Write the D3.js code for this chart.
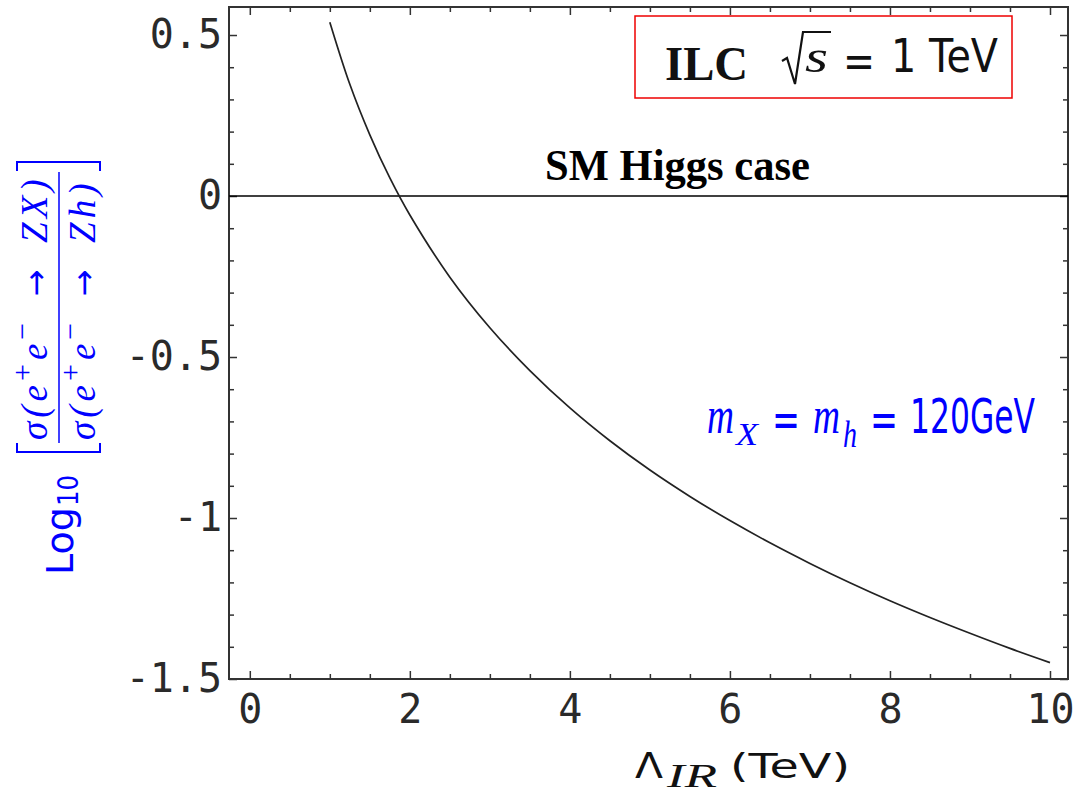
<!DOCTYPE html>
<html>
<head>
<meta charset="UTF-8">
<script src="https://cdn.jsdelivr.net/npm/d3@7"></script>
<style>
  body { margin: 0; background: #fff; }
  svg { display: block; }
  .tick text { font-family: "DejaVu Sans Mono"; font-size: 40px; fill: #2a2a2a; }
</style>
</head>
<body>
<svg id="chart" width="1085" height="792"></svg>
<script>
// curve
var lambdaIR = [1, 1.25, 1.5, 1.75, 2, 2.5, 3, 3.5, 4, 4.5, 5, 5.5, 6, 6.5, 7, 7.5, 8, 8.5, 9, 9.5, 10];
var logRatio = [0.540, 0.347, 0.190, 0.056, -0.059, -0.252, -0.409, -0.542, -0.658, -0.760, -0.851,
                -0.933, -1.008, -1.077, -1.141, -1.201, -1.257, -1.309, -1.358, -1.405, -1.449];

// ticks
var xTicks = [0, 2, 4, 6, 8, 10];
var xMinor = [0.5, 1, 1.5, 2.5, 3, 3.5, 4.5, 5, 5.5, 6.5, 7, 7.5, 8.5, 9, 9.5];
var yTicks = [0.5, 0, -0.5, -1, -1.5];
var yTickLabels = ["0.5", "0", "-0.5", "-1", "-1.5"];
var yMinor = [0.4, 0.3, 0.2, 0.1, -0.1, -0.2, -0.3, -0.4, -0.6, -0.7, -0.8, -0.9, -1.1, -1.2, -1.3, -1.4];

// SM Higgs reference level
var smLevel = 0;

var svg = d3.select("#chart");

var x = d3.scaleLinear().domain([-0.26, 10.225]).range([229, 1068]);
var y = d3.scaleLinear().domain([-1.5, 0.587]).range([679, 7]);

var left = x.range()[0], right = x.range()[1];
var top_ = y.range()[1], bottom = y.range()[0];

// ticks on all four sides, pointing inward
function ticks(axis, tx) {
  var g = svg.append("g").attr("transform", tx).call(axis);
  g.select(".domain").remove();
  g.selectAll(".tick line").attr("stroke", "#333").attr("stroke-width", 1.5);
  return g;
}

ticks(d3.axisBottom(x).tickValues(xTicks).tickSize(-8).tickPadding(16).tickFormat(d3.format("d")),
  "translate(0," + bottom + ")");
ticks(d3.axisBottom(x).tickValues(xMinor).tickSize(-5).tickFormat(""), "translate(0," + bottom + ")");
ticks(d3.axisTop(x).tickValues(xTicks).tickSize(-8).tickFormat(""), "translate(0," + top_ + ")");
ticks(d3.axisTop(x).tickValues(xMinor).tickSize(-5).tickFormat(""), "translate(0," + top_ + ")");

ticks(d3.axisLeft(y).tickValues(yTicks).tickSize(-8).tickPadding(7)
  .tickFormat(function(d, i) { return yTickLabels[i]; }), "translate(" + left + ",0)");
ticks(d3.axisLeft(y).tickValues(yMinor).tickSize(-5).tickFormat(""), "translate(" + left + ",0)");
ticks(d3.axisRight(y).tickValues(yTicks).tickSize(-8).tickFormat(""), "translate(" + right + ",0)");
ticks(d3.axisRight(y).tickValues(yMinor).tickSize(-5).tickFormat(""), "translate(" + right + ",0)");

// frame
svg.append("rect")
  .attr("x", left).attr("y", top_)
  .attr("width", right - left).attr("height", bottom - top_)
  .attr("fill", "none").attr("stroke", "#333").attr("stroke-width", 2);

// SM line
svg.append("line")
  .attr("x1", left).attr("x2", right)
  .attr("y1", y(smLevel)).attr("y2", y(smLevel))
  .attr("stroke", "#000").attr("stroke-width", 1.6);

// curve
var line = d3.line()
  .x(function(d, i) { return x(lambdaIR[i]); })
  .y(function(d) { return y(d); })
  .curve(d3.curveCatmullRom);

svg.append("path")
  .attr("d", line(logRatio))
  .attr("fill", "none")
  .attr("stroke", "#222")
  .attr("stroke-width", 1.7);

// text helper
function label(parent, px, py, str, font, size, opts) {
  opts = opts || {};
  var t = parent.append("text")
    .attr("x", px).attr("y", py)
    .attr("font-family", font)
    .attr("font-size", size)
    .attr("font-weight", opts.weight || "normal")
    .attr("font-style", opts.style || "normal")
    .attr("fill", opts.color || "#111")
    .text(str);
  if (opts.width) t.attr("textLength", opts.width).attr("lengthAdjust", "spacingAndGlyphs");
  return t;
}

// x axis title
label(svg, 635, 778, "\u039b", "DejaVu Sans", 36, {width: 28});
label(svg, 667, 787, "IR", "Liberation Serif", 34, {style: "italic", width: 50});
label(svg, 730, 778, "(TeV)", "DejaVu Sans", 34, {width: 120});

// y axis title (rotated)
var blue = "#0000ff";
var yt = svg.append("g").attr("transform", "translate(0,575) rotate(-90)");
label(yt, 0, 73, "Log", "DejaVu Sans", 38, {color: blue, width: 68});
label(yt, 69, 78, "10", "DejaVu Sans", 28, {color: blue, width: 31});
yt.append("path")
  .attr("d", "M132,17 L123,17 L123,100 L132,100 M404,17 L413,17 L413,100 L404,100")
  .attr("fill", "none").attr("stroke", blue).attr("stroke-width", 2);
yt.append("line")
  .attr("x1", 132).attr("x2", 403).attr("y1", 59).attr("y2", 59)
  .attr("stroke", blue).attr("stroke-width", 1.5);

function crossSection(px, py, final) {
  var t = yt.append("text")
    .attr("x", px).attr("y", py)
    .attr("font-family", "Liberation Serif")
    .attr("font-size", 37)
    .attr("font-style", "italic")
    .attr("letter-spacing", 4)
    .attr("fill", blue);
  t.append("tspan").text("\u03c3(e");
  t.append("tspan").attr("dy", -15).attr("font-size", 30).attr("font-style", "normal").text("+");
  t.append("tspan").attr("dy", 15).text("e");
  t.append("tspan").attr("dy", -15).attr("font-size", 30).attr("font-style", "normal").text("\u2212");
  t.append("tspan").attr("dy", 15).text("\u2002");
  t.append("tspan").attr("font-family", "DejaVu Sans").attr("font-style", "normal").attr("font-size", 32).text("\u2192");
  t.append("tspan").text("\u2002" + final + ")");
}
crossSection(135, 47, "ZX");
crossSection(135, 95, "Zh");

// ILC box
svg.append("rect")
  .attr("x", 635).attr("y", 16).attr("width", 377).attr("height", 82)
  .attr("fill", "none").attr("stroke", "#e00").attr("stroke-width", 1.5);
label(svg, 665, 80, "ILC", "Liberation Serif", 48, {weight: "bold", width: 83});
svg.append("path")
  .attr("d", "M782,61 L787,58 L795,84 L803,32 L831,32")
  .attr("fill", "none").attr("stroke", "#111").attr("stroke-width", 2.2);
label(svg, 805, 72, "s", "Liberation Serif", 46, {style: "italic", width: 23});
label(svg, 843, 77, "=", "DejaVu Sans", 46, {width: 32});
label(svg, 891, 72, "1 TeV", "DejaVu Sans", 46, {width: 107});

// SM Higgs case
label(svg, 545, 180, "SM Higgs case", "Liberation Serif", 44, {weight: "bold", width: 265, color: "#000"});

// mass label
label(svg, 707, 433, "m", "Liberation Serif", 52, {style: "italic", color: blue, width: 27});
label(svg, 736, 445, "X", "Liberation Serif", 32, {style: "italic", color: blue, width: 22});
label(svg, 772, 437, "=", "DejaVu Sans", 50, {color: blue, width: 28});
label(svg, 813, 433, "m", "Liberation Serif", 52, {style: "italic", color: blue, width: 27});
label(svg, 843, 447, "h", "Liberation Serif", 38, {style: "italic", color: blue, width: 14});
label(svg, 870, 437, "=", "DejaVu Sans", 50, {color: blue, width: 28});
label(svg, 910, 433, "120GeV", "DejaVu Sans", 48, {color: blue, width: 125});
</script>
</body>
</html>
